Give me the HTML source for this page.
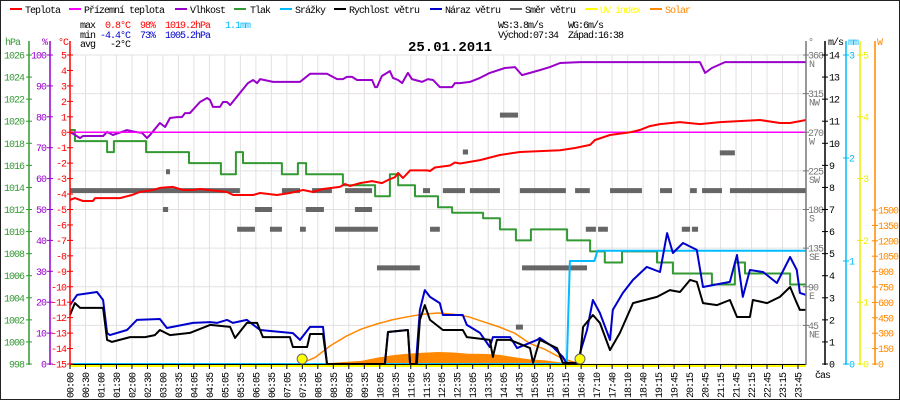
<!DOCTYPE html>
<html><head><meta charset="utf-8">
<style>
html,body{margin:0;padding:0;background:#fff;}
svg{display:block;}
text{font-family:"Liberation Mono",monospace;font-size:10px;letter-spacing:-1px;}
</style></head>
<body>
<svg id="chart" width="900" height="400" viewBox="0 0 900 400" xmlns="http://www.w3.org/2000/svg">
<rect x="0.5" y="0.5" width="899" height="399" fill="#fff" stroke="#222"/>
<g id="grid"></g>
<g id="series"></g>
<g id="axes"></g>
<g id="legend">
  <g><rect x="10" y="8" width="12" height="2" fill="#f00"/><text x="25" y="13">Teplota</text></g>
  <g><rect x="69" y="8" width="12" height="2" fill="#f0f"/><text x="84" y="13">Přízemní teplota</text></g>
  <g><rect x="175" y="8" width="12" height="2" fill="#90c"/><text x="190" y="13">Vlhkost</text></g>
  <g><rect x="234" y="8" width="12" height="2" fill="#393"/><text x="250" y="13">Tlak</text></g>
  <g><rect x="280" y="8" width="12" height="2" fill="#0bf"/><text x="295" y="13">Srážky</text></g>
  <g><rect x="334" y="8" width="12" height="2" fill="#000"/><text x="349" y="13">Rychlost větru</text></g>
  <g><rect x="430" y="8" width="12" height="2" fill="#00c"/><text x="445" y="13">Náraz větru</text></g>
  <g><rect x="510" y="8" width="12" height="2" fill="#666"/><text x="525" y="13">Směr větru</text></g>
  <g><rect x="585" y="8" width="12" height="2" fill="#ff0"/><text x="600" y="13" fill="#ff0">UV index</text></g>
  <g><rect x="650" y="8" width="12" height="2" fill="#f80"/><text x="665" y="13" fill="#f80">Solar</text></g>
</g>
<g id="stats">
  <text x="80" y="28">max</text><text x="105" y="28" fill="#f00">0.8°C</text><text x="140" y="28" fill="#f00">98%</text><text x="165" y="28" fill="#f00">1019.2hPa</text><text x="225" y="28" fill="#0bf">1.1mm</text>
  <text x="80" y="38">min</text><text x="100" y="38" fill="#00c">-4.4°C</text><text x="140" y="38" fill="#00c">73%</text><text x="165" y="38" fill="#00c">1005.2hPa</text>
  <text x="80" y="47">avg</text><text x="110" y="47">-2°C</text>
  <text x="498" y="28">WS:3.8m/s</text><text x="568" y="28">WG:6m/s</text>
  <text x="498" y="38">Východ:07:34</text><text x="568" y="38">Západ:16:38</text>
</g>
<text x="450" y="51" text-anchor="middle" style="font-size:14px;font-weight:bold;letter-spacing:0">25.01.2011</text>
</svg>
<script>
// ---- data (time in hours) ----
const xLabels = ["00:00","00:30","01:00","01:30","02:00","02:30","03:00","03:35","04:05","04:35","05:05","05:35","06:05","06:35","07:05","07:35","08:05","08:35","09:05","09:35","10:05","10:35","11:05","11:35","12:05","12:35","13:05","13:35","14:05","14:35","15:05","15:35","16:15","16:40","17:10","17:40","18:10","18:40","19:15","19:45","20:15","20:45","21:15","21:45","22:15","22:45","23:15","23:45"];
const tempT = [0,0.16,0.42,0.75,0.82,1.63,2.02,2.28,2.71,2.93,3.36,3.68,4.01,4.24,5.12,5.32,5.97,6.2,6.75,7.17,7.6,7.92,8.25,8.8,8.97,9.13,9.46,9.85,10.17,10.37,10.6,10.7,10.86,11.09,11.64,11.74,11.9,12.39,12.55,12.72,13.37,14.02,14.67,15.98,16.47,16.96,17.12,17.61,18.26,18.59,18.91,19.24,19.89,20.54,21.2,22.5,23.15,23.48,24];
const tempV = [-4.38,-4.26,-4.45,-4.45,-4.26,-4.26,-4.06,-3.87,-3.74,-3.6,-3.54,-3.74,-3.74,-3.67,-3.87,-4.06,-4.06,-3.93,-4.06,-3.93,-3.74,-3.87,-3.67,-3.54,-3.35,-3.48,-3.29,-3.16,-3.29,-3.09,-2.9,-2.64,-2.96,-2.47,-2.47,-2.51,-2.28,-2.15,-1.96,-2.02,-1.8,-1.47,-1.28,-1.16,-1.02,-0.82,-0.5,-0.18,0,0.15,0.4,0.53,0.66,0.53,0.66,0.79,0.6,0.6,0.79];
const feelT = [0,24];
const feelV = [0,0];
const humT = [0,0.33,0.42,1.08,1.21,1.4,1.86,2.12,2.35,2.51,2.61,2.93,3.1,3.26,3.49,3.65,3.75,3.91,4.24,4.47,4.57,4.66,4.89,4.99,5.12,5.22,5.54,5.8,5.97,6.1,6.2,6.62,7.5,7.83,8.38,8.71,8.9,9.03,9.2,9.36,9.85,9.95,10.01,10.17,10.43,10.53,10.7,10.83,11.02,11.15,11.48,11.67,11.84,12.06,12.46,12.55,12.72,13.04,13.37,13.69,14.18,14.51,14.74,15.32,15.65,15.98,16.63,20.54,20.71,20.93,21.36,24];
const humV = [75.1,73.1,73.8,73.8,75.1,74.1,75.7,75.1,74.8,73.1,74.1,78,76.7,79.6,79.9,79.9,81.2,81.2,84.8,86.1,85.4,83.2,83.2,84.8,84.8,83.8,87.7,90.9,91.9,90.9,92.2,91.3,91.3,93.9,93.9,92.2,92.2,92.9,92.9,91.9,91.9,89.6,89.6,93.2,94.8,92.6,91.9,90.9,94.2,92.2,91.3,92.2,91.9,89.6,89.6,90.9,90.9,91.3,92.6,94.2,95.8,96.1,93.5,95.1,96.1,97.4,97.7,97.7,94.2,95.8,97.7,97.7];
const presT = [0,0.16,1.21,1.43,2.48,3.88,4.92,5.41,5.64,6.91,7.43,7.7,8.9,9.95,10.43,10.7,11.25,12.0,12.46,13.47,14.02,14.54,15.03,16.21,16.96,17.44,18.0,19.14,19.66,20.93,21.68,22.01,23.48];
const presV = [1019.2,1018.2,1017.2,1018.2,1017.2,1016.2,1015.2,1017.2,1016.2,1015.2,1016.2,1015.2,1014.2,1013.2,1015.2,1014.2,1013.2,1012.2,1011.7,1011.2,1010.2,1009.2,1010.2,1009.2,1008.2,1007.2,1008.2,1007.2,1006.2,1005.2,1007.2,1006.2,1005.2];
const rainT = [0,16.2,16.3,17.1,17.2,24];
const rainV = [0,0,1.0,1.0,1.1,1.1];
const gustT = [0,0.23,0.88,1.08,1.21,1.3,1.86,2.18,2.93,3.16,4.01,4.57,4.79,5.12,5.31,5.77,6.2,7.27,7.5,7.83,8.25,8.38,10.27,10.37,11.02,11.09,11.28,11.41,11.57,11.74,12.06,12.16,12.81,12.94,13.37,13.69,13.79,14.35,14.58,15.23,15.32,15.75,16.07,16.2,16.53,16.63,16.86,17.05,17.28,17.61,17.7,18.03,18.36,18.81,19.24,19.47,19.66,19.99,20.44,20.64,21.52,21.75,21.94,22.17,22.6,23.05,23.48,23.7,23.8,24];
const gustV = [2.67,3.13,3.26,2.9,1.4,1.31,1.54,2.0,2.04,1.63,1.86,1.9,1.86,2.0,1.86,2.0,1.54,1.4,1.09,1.68,1.68,0,0,1.45,1.54,0,0,2.45,3.35,3.04,2.76,2.22,2.22,1.77,1.41,0.77,1.22,1.22,0.72,1.09,1.18,0.77,0.32,0,0,0.5,1.54,2.9,2.31,1.09,2.45,3.22,3.81,4.4,4.17,5.93,5.03,5.48,5.17,3.49,3.72,4.94,3.04,4.26,4.17,3.67,4.85,4.26,3.22,3.13];
const windT = [0,0.16,0.33,1.08,1.21,1.37,1.96,2.45,2.77,2.93,3.26,3.91,4.57,5.22,5.38,5.77,6.1,6.29,7.17,7.27,7.73,7.83,8.25,8.38,10.27,10.37,11.02,11.09,11.31,11.41,11.57,11.74,12.16,12.81,12.94,13.69,13.79,13.92,14.35,15.0,15.1,15.32,15.88,16.07,16.53,16.63,16.73,17.05,17.28,17.61,17.93,18.36,19.14,19.56,19.89,20.22,20.44,20.64,21.1,21.52,21.75,22.17,22.27,22.73,23.15,23.48,23.7,23.8,24];
const windV = [2.22,2.76,2.54,2.54,1.09,1.0,1.22,1.22,1.31,1.54,1.31,1.41,1.77,1.68,1.18,1.86,1.86,1.22,1.22,0.77,0.77,1.36,1.36,0,0,1.45,1.54,0,0,2.0,2.67,2.0,1.54,1.54,1.22,1.09,0.32,1.09,1.09,0.72,0.05,1.09,0.72,0.05,0.05,0.27,1.68,2.22,1.86,0.63,1.41,2.76,3.04,3.35,3.26,3.81,3.72,2.76,2.67,2.9,2.13,2.13,2.9,2.76,3.04,3.49,2.76,2.45,2.45];
const dirStart = [0,6.91,7.89,8.97,11.51,12.16,13.04,14.67,16.47,17.61,19.24,20.22,20.61,21.52,3.03,6.03,7.69,9.29,3.13,12.81,21.19,5.45,6.52,7.5,8.64,11.74,16.82,17.22,19.95,20.28,10.01,14.74,14.02,14.54];
const dirEnd   = [5.54,7.5,8.54,9.85,11.74,12.88,14.02,16.17,16.95,18.65,19.63,20.44,21.26,24,3.2,6.59,8.28,9.85,3.26,12.98,21.68,6.03,6.91,7.69,10.04,12.06,17.15,17.54,20.22,20.48,11.41,16.86,14.61,14.77];
const dirDeg   = [202,202,202,202,202,202,202,202,202,202,202,202,202,202,180,180,180,180,224,247,246,157,157,157,157,157,157,157,157,157,112,112,290,43];
const solarT = [7.5,8,8.5,9,9.5,10,10.5,11,11.5,12,12.5,13,13.5,14,14.5,15,15.5,16,16.5,16.7];
const solarV = [0,5,10,20,30,60,85,100,110,117,112,100,98,90,65,45,35,15,3,0];
const solarMaxT = [7.5,8,8.5,9,9.5,10,10.5,11,11.5,12,12.5,13,13.5,14,14.5,15,15.5,16,16.5,16.7];
const solarMaxV = [0,65,180,270,340,390,430,460,485,497,485,460,410,360,300,200,140,60,10,0];
const uvT = [0,24];
const uvV = [0,0];
const sunEvents = [7.57,16.63];

// ---- scales ----
const X0=70, X1=806, YB=364, YT=55;
const X = t => X0 + t*(X1-X0)/24;
const yT = c => YB - (c+15)*(YB-YT)/20;
const yP = p => YB - (p-998)*(YB-YT)/28;
const yH = h => YB - h*(YB-YT)/100;
const yS = v => YB - v*(YB-YT)/14;
const yM = m => YB - m*(YB-YT)/3;
const yD = d => YB - d*(YB-YT)/360;
const yUV = u => YB - u*(YB-YT)/5;
const yW = w => YB - w*(YB-210)/1500;

const NS='http://www.w3.org/2000/svg';
function mk(tag, attrs, parent){const e=document.createElementNS(NS,tag);for(const k in attrs)e.setAttribute(k,attrs[k]);parent.appendChild(e);return e;}
const grid=document.getElementById('grid'), ser=document.getElementById('series'), ax=document.getElementById('axes');

// grid
const step=(X1-8-X0)/(xLabels.length-1);
xLabels.forEach((l,i)=>{const x=X0+i*step;
  const g=mk('line',{x1:x,x2:x,y1:YT,y2:YB,stroke:'#e4e0e0','stroke-width':1},grid);
  
  
});
for(let k=0;k<=8;k++){const y=YT+k*(YB-YT)/8;
  const g=mk('line',{x1:X0,x2:X1,y1:y,y2:y,stroke:'#e4e0e0','stroke-width':1},grid);
  
  
}

function pts(T,V,fy){return T.map((t,i)=>X(t).toFixed(1)+','+fy(V[i]).toFixed(1)).join(' ');}
function stepPts(T,V,fy){let s=[];T.forEach((t,i)=>{if(i>0)s.push(X(t).toFixed(1)+','+fy(V[i-1]).toFixed(1));s.push(X(t).toFixed(1)+','+fy(V[i]).toFixed(1));});s.push(X(24)+','+fy(V[V.length-1]).toFixed(1));return s.join(' ');}

// solar area
let sa=mk('polygon',{points:X(solarT[0])+','+YB+' '+pts(solarT,solarV,yW)+' '+X(solarT[solarT.length-1])+','+YB,fill:'#f80'},ser);


let sm=mk('polyline',{points:pts(solarMaxT,solarMaxV,yW),fill:'none',stroke:'#f80','stroke-width':1.5},ser);



// wind direction
dirDeg.forEach((d,i)=>{
  const r=mk('rect',{x:X(dirStart[i]),y:yD(d)-2.5,width:Math.max(3,X(dirEnd[i])-X(dirStart[i])),height:5,fill:'#666'},ser);
  
  
});

function line(T,V,fy,color,name,w,stepped){
  const p=mk('polyline',{points:stepped?stepPts(T,V,fy):pts(T,V,fy),fill:'none',stroke:color,'stroke-width':w||2,'stroke-linejoin':'round'},ser);
  
  
}
line(presT,presV,yP,'#393','pressure-line',2,true);
line(humT,humV,yH,'#90c','humidity-line',2);
line(feelT,feelV,yT,'#f0f','feels-like-line',1.5);
line(tempT,tempV,yT,'#f00','temperature-line',2);
line(rainT,rainV,yM,'#0bf','rain-line',2);
line(gustT,gustV,yS,'#00c','wind-gust-line',2);
line(windT,windV,yS,'#000','wind-speed-line',2);

// bottom axis
let bl=mk('line',{x1:X0,x2:X1,y1:364.5,y2:364.5,stroke:'#000','stroke-width':1},ax);


line(uvT,uvV,v=>yUV(v)+2,'#ff0','uv-index-line',2);
xLabels.forEach((l,i)=>{const x=X0+i*step;
  const tk=mk('line',{x1:x,x2:x,y1:365,y2:369,stroke:'#000'},ax);
  
  
  const t=mk('text',{transform:`translate(${x+3.5},398) rotate(-90)`},ax);
  t.textContent=l;
  
  
});
sunEvents.forEach((t,i)=>{
  const c=mk('circle',{cx:X(t),cy:359,r:5,fill:'#ff0','stroke':'#666','stroke-width':1},ax);
  
  
});

// axes helper
function vaxis(x,color,vals,fy,labelX,anchor,name,extra){
  const a=mk('line',{x1:x,x2:x,y1:YT-14,y2:YB+1,stroke:color,'stroke-width':1.5},ax);
  
  
  vals.forEach((v,i)=>{const y=fy(v);
    const tk=mk('line',{x1:x-3,x2:x+3,y1:y,y2:y,stroke:color},ax);
    
    
    const t=mk('text',{x:labelX,y:y+3.5,fill:color,'text-anchor':anchor},ax);
    t.textContent=String(v);
    
    
    if(extra&&extra[i]){const t2=mk('text',{x:labelX+1,y:y+12,fill:color},ax);t2.textContent=extra[i];
      
      }
  });
}
const hpaTicks=[998,1000,1002,1004,1006,1008,1010,1012,1014,1016,1018,1020,1022,1024,1026];
const pctTicks=[0,10,20,30,40,50,60,70,80,90,100];
const cTicks=[5,4,3,2,1,0,-1,-2,-3,-4,-5,-6,-7,-8,-9,-10,-11,-12,-13,-14,-15];
const degTicks=[45,90,135,180,225,270,315,360];
const degNames=['NE','E','SE','S','SW','W','NW','N'];
const msTicks=[0,1,2,3,4,5,6,7,8,9,10,11,12,13,14];
const mmTicks=[0,1,2,3];
const uvTicks=[0,1,2,3,4,5];
const wTicks=[0,150,300,450,600,750,900,1050,1200,1350,1500];
vaxis(29,'#393',hpaTicks,yP,24,'end','pressure');
vaxis(50,'#90c',pctTicks,yH,46,'end','humidity');
vaxis(70,'#f00',cTicks,yT,66,'end','temperature');
vaxis(806,'#777',degTicks,yD,808,'start','direction',degNames);
vaxis(825,'#000',msTicks,yS,829,'start','wind-speed');
vaxis(846,'#0bf',mmTicks,yM,849,'start','rain');
vaxis(860,'#ee0',uvTicks,yUV,863,'start','uv');
vaxis(875,'#f80',wTicks,yW,878,'start','solar');
[['hPa',5,'#393'],['%',42,'#90c'],['°C',58,'#f00'],['°',808,'#777'],['m/s',828,'#000'],['mm',848,'#0bf'],['W',877,'#f80'],['čas',815,'#000']].forEach(([s,x,c])=>{
  const t=mk('text',{x:x,y:s==='čas'?378:45,fill:c},ax);t.textContent=s;
  
  
});
</script>
</body></html>
